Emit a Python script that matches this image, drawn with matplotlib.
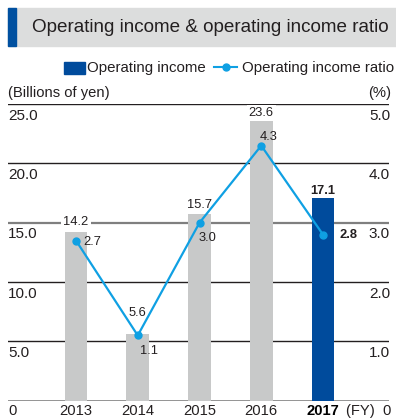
import matplotlib
matplotlib.use("Agg")
import matplotlib.pyplot as plt
from matplotlib.patches import Rectangle
from matplotlib.lines import Line2D
import matplotlib.transforms as mtransforms

plt.rcParams['font.family'] = ['Liberation Sans', 'DejaVu Sans']

# ---- data ----
years = ["2013", "2014", "2015", "2016", "2017"]
income = [14.2, 5.6, 15.7, 23.6, 17.1]          # billions of yen
ratio = [2.7, 1.1, 3.0, 4.3, 2.8]               # %
left_ticks = [5.0, 10.0, 15.0, 20.0, 25.0]
right_ticks = [1.0, 2.0, 3.0, 4.0, 5.0]
title = "Operating income & operating income ratio"
legend_bar = "Operating income"
legend_line = "Operating income ratio"
left_unit = "(Billions of yen)"
right_unit = "(%)"

# ---- style ----
W, H = 396, 419
TXT = "#231f20"
GRAY_BAR = "#c8c9c9"
BLUE_BAR = "#004b9c"
LINE_BLUE = "#0fa0e3"
BAND = "#dcdddd"

fig = plt.figure(figsize=(W / 100, H / 100), dpi=100)

def fx(px):
    return px / W

def fy(py):
    return 1 - py / H

# title band with accent stripe
fig.patches.append(Rectangle((fx(8), fy(46)), fx(396 - 8), (46 - 7.5) / H,
                             transform=fig.transFigure, color=BAND, zorder=0))
fig.patches.append(Rectangle((fx(8), fy(46)), fx(8), (46 - 7.5) / H,
                             transform=fig.transFigure, color="#0050a0", zorder=1))
fig.text(fx(32), fy(27), title, fontsize=13.6, color=TXT, va="center", ha="left")

# legend
fig.patches.append(Rectangle((fx(64), fy(74.5)), fx(21), 12.5 / H,
                             transform=fig.transFigure, color=BLUE_BAR))
fig.text(fx(87), fy(68), legend_bar, fontsize=10.8, color=TXT, va="center", ha="left")
fig.lines.append(Line2D([fx(214), fx(237)], [fy(67.5), fy(67.5)], transform=fig.transFigure,
                        color=LINE_BLUE, lw=1.5, marker=None))
fig.lines.append(Line2D([fx(225.5)], [fy(67.5)], transform=fig.transFigure,
                        color=LINE_BLUE, marker="o", markersize=5, lw=0))
fig.text(fx(242.5), fy(68), legend_line, fontsize=10.8, color=TXT, va="center", ha="left")

# units
fig.text(fx(8), fy(93), left_unit, fontsize=10.6, color=TXT, va="center", ha="left")
fig.text(fx(391), fy(93), right_unit, fontsize=10.6, color=TXT, va="center", ha="right")

# plot area
x0_px, x1_px = 8, 389
y_base, y_top = 400.7, 104.1
ax = fig.add_axes([fx(x0_px), fy(y_base), (x1_px - x0_px) / W, (y_base - y_top) / H])
ax.set_ylim(0, 25)
step = 61.75
first = 76
ax.set_xlim(-(first - x0_px) / step, 4 + (x1_px - (first + 4 * step)) / step)
ax.axis("off")

ax2 = ax.twinx()
ax2.set_ylim(0, 5)
ax2.axis("off")

xs = list(range(len(years)))

# horizontal guide lines
for t in left_ticks:
    col = "#7f7f7f" if t == 15.0 else TXT
    lw = 1.6 if t == 15.0 else 1.0
    ax.axhline(t, color=col, lw=lw, zorder=1)
ax.axhline(0, color="#8a8a8a", lw=2.0, zorder=1)

# bars
colors = [GRAY_BAR] * (len(years) - 1) + [BLUE_BAR]
ax.bar(xs, income, width=0.372, color=colors, zorder=2)

# bar value labels
bar_off = [10, 21, 9.5, 8, 7]
for i, v in enumerate(income):
    last = i == len(income) - 1
    ax.annotate(f"{v:.1f}", (xs[i], v), xytext=(0, bar_off[i]), textcoords="offset pixels",
                ha="center", va="center", fontsize=9.3, color=TXT,
                fontweight="bold" if last else "normal", zorder=3,
                bbox=dict(boxstyle="square,pad=0.15", fc="white", ec="none") if i in (0, 3) else None)

# ratio line
ax2.plot(xs, ratio, color=LINE_BLUE, lw=1.6, marker="o", markersize=5, zorder=4)
ratio_off = [(7, -1, "left"), (2, -16, "left"), (-1, -15, "left"), (-2, 9, "left"), (16, 0, "left")]
for i, v in enumerate(ratio):
    dx, dy, ha = ratio_off[i]
    last = i == len(ratio) - 1
    ax2.annotate(f"{v:.1f}", (xs[i], v), xytext=(dx, dy), textcoords="offset pixels",
                 ha=ha, va="center", fontsize=9.3, color=TXT,
                 fontweight="bold" if last else "normal", zorder=5)

# axis value labels (below each guide line)
tl = mtransforms.blended_transform_factory(ax.transAxes, ax.transData)
tr = mtransforms.blended_transform_factory(ax2.transAxes, ax2.transData)
for t in left_ticks:
    ax.annotate(f"{t:.1f}", (0, t), xycoords=tl, xytext=(0, -11.5), textcoords="offset pixels",
                ha="left", va="center", fontsize=11, color=TXT)
for t in right_ticks:
    ax2.annotate(f"{t:.1f}", (1, t), xycoords=tr, xytext=(1, -11.5), textcoords="offset pixels",
                 ha="right", va="center", fontsize=11, color=TXT)

# category labels
for i, y in enumerate(years):
    last = i == len(years) - 1
    ax.annotate(y, (xs[i], 0), xytext=(0, -10.5), textcoords="offset pixels",
                ha="center", va="center", fontsize=10.6,
                color="black" if last else TXT, fontweight="bold" if last else "normal")
fig.text(fx(8), fy(411), "0", fontsize=10.6, color=TXT, va="center", ha="left")
fig.text(fx(391), fy(411), "(FY)  0", fontsize=10.6, color=TXT, va="center", ha="right")

fig.savefig("out.png", dpi=100)
